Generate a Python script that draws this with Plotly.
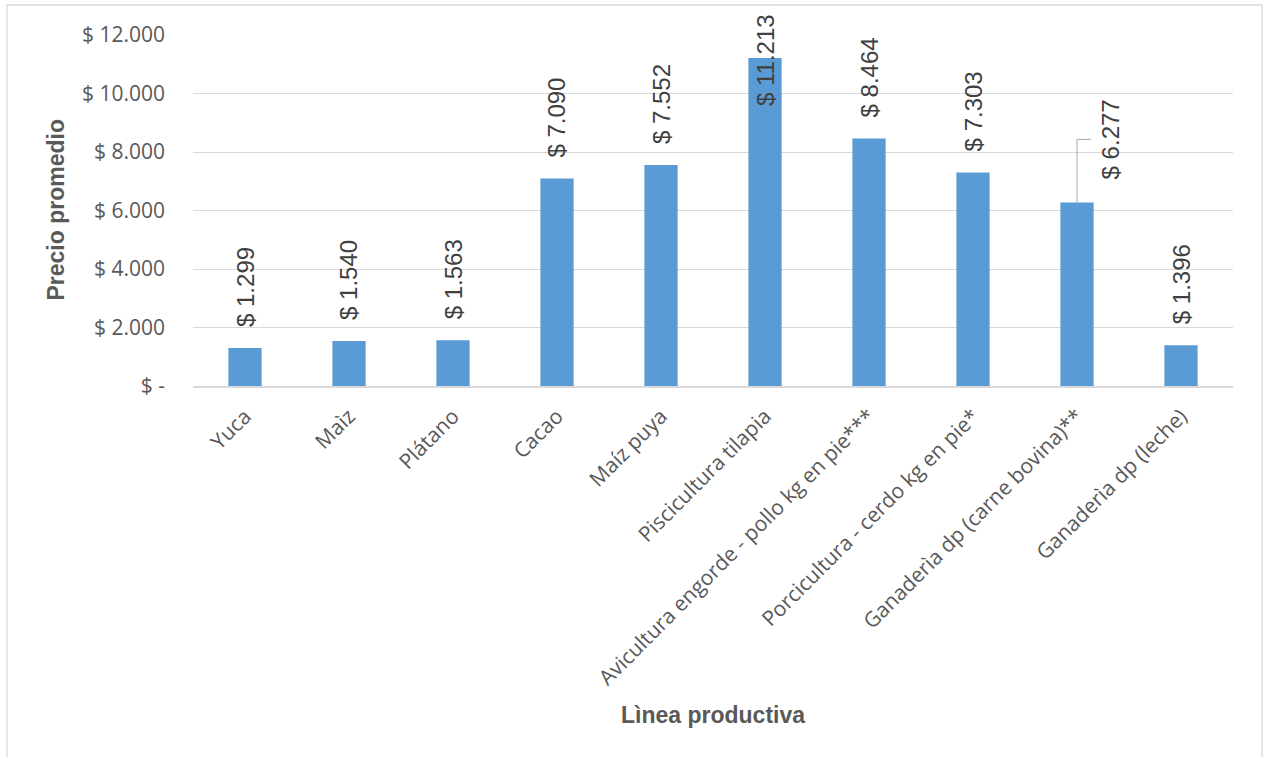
import plotly.graph_objects as go

# Average price per productive line
categories = [
    "Yuca",
    "Maìz",
    "Plátano",
    "Cacao",
    "Maíz puya",
    "Piscicultura tilapia",
    "Avicultura engorde - pollo kg en pie***",
    "Porcicultura - cerdo kg en pie*",
    "Ganaderìa dp (carne bovina)**",
    "Ganaderìa dp (leche)",
]
prices = [1299, 1540, 1563, 7090, 7552, 11213, 8464, 7303, 6277, 1396]

y_tick_values = [0, 2000, 4000, 6000, 8000, 10000, 12000]
y_tick_text = ["$ -", "$ 2.000", "$ 4.000", "$ 6.000", "$ 8.000", "$ 10.000", "$ 12.000"]

# Page and plot-area geometry (pixels)
W, H = 1265, 757
L, R, T, B = 193, 32, 35, 371
plot_w = W - L - R
plot_h = H - T - B
y_max = 12000
units_per_px = y_max / plot_h

BAR_COLOR = "#5b9bd5"
GRID = "#d9d9d9"
TXT = "#595959"
LBL = "#404040"
LABEL_FONT = dict(family="Liberation Sans, Arial", size=24, color=LBL)

# Label that was dragged aside and joined to its bar by a leader line
moved_label = "Ganaderìa dp (carne bovina)**"
moved_dx_px, moved_dy_px = 33, 63


def fmt(v):
    return "$ " + f"{v:,}".replace(",", ".")


fig = go.Figure(
    go.Bar(
        x=categories,
        y=prices,
        marker=dict(color=BAR_COLOR, line=dict(width=0)),
        width=0.32,
        hoverinfo="x+y",
    )
)

annotations = []
shapes = []
needed_px = 96  # gap + rotated label length
for i, (cat, val) in enumerate(zip(categories, prices)):
    if cat == moved_label:
        annotations.append(dict(
            x=cat, y=val, xref="x", yref="y", text=fmt(val), showarrow=False,
            textangle=-90, xanchor="center", yanchor="middle",
            xshift=moved_dx_px, yshift=moved_dy_px, font=LABEL_FONT,
        ))
        top = val + moved_dy_px * units_per_px
        shapes.append(dict(type="line", xref="x", yref="y", x0=i, x1=i, y0=val, y1=top,
                           line=dict(color="#a6a6a6", width=1)))
        shapes.append(dict(type="line", xref="x", yref="y", x0=i,
                           x1=i + 14 / (plot_w / len(categories)),
                           y0=top, y1=top, line=dict(color="#a6a6a6", width=1)))
    elif val + needed_px * units_per_px > y_max:
        # not enough room above: centre the label on the bar end
        annotations.append(dict(
            x=cat, y=val, xref="x", yref="y", text=fmt(val), showarrow=False,
            textangle=-90, xanchor="center", yanchor="middle", yshift=-2, font=LABEL_FONT,
        ))
    else:
        annotations.append(dict(
            x=cat, y=val, xref="x", yref="y", text=fmt(val), showarrow=False,
            textangle=-90, xanchor="center", yanchor="bottom", yshift=19, font=LABEL_FONT,
        ))

# Axis titles
annotations.append(dict(
    x=(55 - L) / plot_w, y=0.5, xref="paper", yref="paper", text="<b>Precio promedio</b>",
    showarrow=False, textangle=-90, xanchor="center", yanchor="middle",
    font=dict(family="Liberation Sans, Arial", size=23, color=TXT),
))
annotations.append(dict(
    x=0.5, y=(T + plot_h - 715) / plot_h, xref="paper", yref="paper", text="<b>Lìnea productiva</b>",
    showarrow=False, xanchor="center", yanchor="middle",
    font=dict(family="Liberation Sans, Arial", size=23, color=TXT),
))

# Outer chart border
shapes.append(dict(
    type="rect", xref="paper", yref="paper",
    x0=(7 - L) / plot_w, x1=(1262 - L) / plot_w,
    y0=(T + plot_h - 780) / plot_h, y1=(T + plot_h - 5) / plot_h,
    line=dict(color=GRID, width=1.3), fillcolor="rgba(0,0,0,0)", layer="below",
))

fig.update_layout(
    width=W, height=H,
    margin=dict(l=L, r=R, t=T, b=B, autoexpand=False),
    paper_bgcolor="white", plot_bgcolor="white",
    showlegend=False,
    annotations=annotations,
    shapes=shapes,
    xaxis=dict(
        type="category",
        tickangle=-45,
        tickfont=dict(family="Open Sans", size=21, color=TXT),
        showgrid=False,
        showline=True, linecolor=GRID, linewidth=1.5,
        ticks="", automargin=False, ticklabelstandoff=8,
        range=[-0.5, len(categories) - 0.5],
    ),
    yaxis=dict(
        range=[0, y_max],
        tickvals=y_tick_values, ticktext=y_tick_text,
        tickfont=dict(family="Open Sans", size=21, color=TXT),
        showgrid=True, gridcolor=GRID, gridwidth=1,
        zeroline=False, showline=False, ticks="",
        ticklabelstandoff=27, automargin=False,
    ),
)

fig.write_html("out.html")
